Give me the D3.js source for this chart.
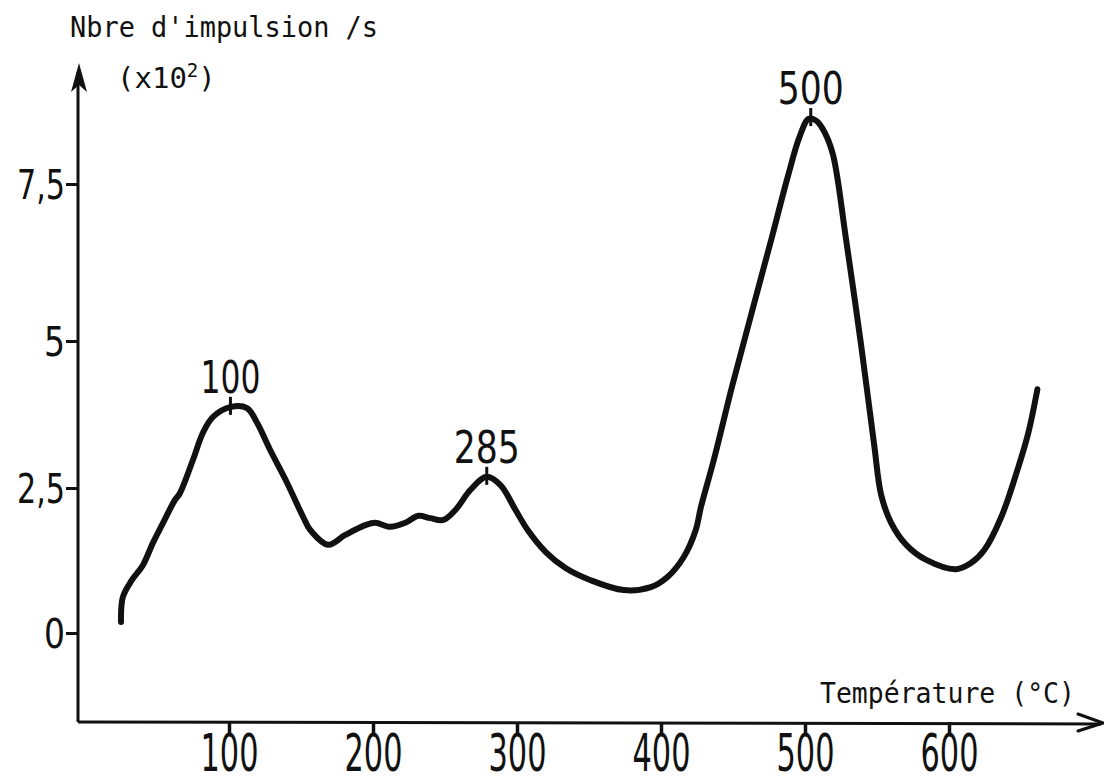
<!DOCTYPE html>
<html><head><meta charset="utf-8">
<script src="https://cdn.jsdelivr.net/npm/d3@7"></script>
<style>
html,body{margin:0;padding:0;background:#fff;}
svg{display:block;}
.mono{font-family:"DejaVu Sans Mono","Liberation Mono",monospace;fill:#111;}
.num{font-family:"Liberation Sans Narrow","DejaVu Sans Condensed","DejaVu Sans",sans-serif;fill:#111;}
</style></head>
<body>
<script>
// ---- data ----
const temps = [25, 26.3, 32.5, 40.2, 47.1, 53.4, 62.4, 65.9, 75, 81.9, 88.9, 101.4, 112.5, 119.5, 128.5, 140.3, 151.5, 156.3, 168.9, 180.7, 194.6, 201.6, 212, 222.4, 231.5, 239.8, 248.9, 257.2, 267.7, 278.8, 288.5, 299, 307.3, 319.8, 333.7, 351.1, 374.1, 392.9, 404.7, 415.8, 424.2, 427.7, 436.7, 449.3, 462.5, 475.7, 488.2, 496.2, 502.6, 508.2, 513.9, 519.5, 528.5, 538.9, 548, 552.9, 559.8, 570.3, 584.2, 605, 615.5, 624.5, 636.3, 648.2, 655.1, 661.4];
const counts = [0.19, 0.62, 0.91, 1.17, 1.55, 1.86, 2.29, 2.41, 2.98, 3.44, 3.71, 3.88, 3.86, 3.61, 3.15, 2.59, 2.0, 1.78, 1.52, 1.69, 1.86, 1.9, 1.83, 1.9, 2.02, 1.98, 1.95, 2.12, 2.47, 2.69, 2.55, 2.12, 1.78, 1.40, 1.12, 0.91, 0.74, 0.79, 0.97, 1.31, 1.78, 2.17, 2.98, 4.22, 5.41, 6.54, 7.63, 8.25, 8.54, 8.50, 8.31, 7.96, 6.62, 4.94, 3.24, 2.38, 1.90, 1.52, 1.26, 1.10, 1.21, 1.43, 2.0, 2.86, 3.44, 4.18];
const xTickValues = [100, 200, 300, 400, 500, 600];
const xTickLabels = ["100", "200", "300", "400", "500", "600"];
const yTickValues = [0, 2.5, 5, 7.5];
const yTickLabels = ["0", "2,5", "5", "7,5"];
const peakTemps = [101, 279, 504];
const peakValues = [3.88, 2.69, 8.55];
const peakLabels = ["100", "285", "500"];
const yTitle = "Nbre d'impulsion /s";
const yUnitMain = "(x10";
const yUnitSup = "2";
const yUnitEnd = ")";
const xTitle = "Température (°C)";

// ---- drawing ----
const W = 1104, H = 783;
const svg = d3.select("body").append("svg").attr("width", W).attr("height", H);

const x = d3.scaleLinear().domain([100, 500]).range([229, 805]);
const y = d3.scaleLinear().domain([0, 2.5, 5, 7.5]).range([633, 488, 341, 184]);

const originX = 78, axisY = 722;

// axes lines
svg.append("path")
  .attr("d", `M${originX},${axisY} L${originX},72`)
  .attr("stroke", "#111").attr("stroke-width", 3).attr("fill", "none");
svg.append("path")
  .attr("d", `M${originX},${axisY} L1101,${axisY + 2}`)
  .attr("stroke", "#111").attr("stroke-width", 3).attr("fill", "none");
// y arrow (filled)
svg.append("path")
  .attr("d", `M${originX + 1},63 L${originX + 9},92 L${originX + 1},85 L${originX - 7},92 Z`)
  .attr("fill", "#111");
// x arrow (open chevron)
svg.append("path")
  .attr("d", `M1078,714 L1103,${axisY + 1} L1078,731`)
  .attr("stroke", "#111").attr("stroke-width", 3).attr("fill", "none")
  .attr("stroke-linecap", "round").attr("stroke-linejoin", "round");

// x axis ticks
const gx = svg.append("g").attr("transform", `translate(0,${axisY})`)
  .call(d3.axisBottom(x).tickValues(xTickValues).tickSize(13).tickFormat((d, i) => xTickLabels[i]));
gx.select(".domain").remove();
gx.selectAll(".tick line").attr("stroke", "#111").attr("stroke-width", 3.5);
gx.selectAll(".tick text")
  .attr("class", "num").attr("font-size", 51).attr("y", 49).attr("dy", 0)
  .attr("textLength", 58).attr("lengthAdjust", "spacingAndGlyphs")
  .attr("fill", "#111");

// y axis ticks
const gy = svg.append("g").attr("transform", `translate(${originX},0)`)
  .call(d3.axisLeft(y).tickValues(yTickValues).tickSize(12).tickFormat((d, i) => yTickLabels[i]));
gy.select(".domain").remove();
gy.selectAll(".tick line").attr("stroke", "#111").attr("stroke-width", 3);
gy.selectAll(".tick text")
  .attr("class", "num").attr("font-size", 41).attr("x", -13).attr("dy", "0.36em")
  .attr("textLength", (d, i) => yTickLabels[i].length === 1 ? 21 : 48)
  .attr("lengthAdjust", "spacingAndGlyphs")
  .attr("fill", "#111");

// curve
const line = d3.line().x(d => x(d[0])).y(d => y(d[1])).curve(d3.curveCatmullRom.alpha(0.5));
svg.append("path")
  .datum(temps.map((t, i) => [t, counts[i]]))
  .attr("d", line)
  .attr("fill", "none").attr("stroke", "#111").attr("stroke-width", 6)
  .attr("stroke-linecap", "round").attr("stroke-linejoin", "round");

// peak markers
const pk = svg.append("g");
peakTemps.forEach((t, i) => {
  const px = x(t), py = y(peakValues[i]);
  pk.append("line").attr("x1", px).attr("x2", px).attr("y1", py - 10).attr("y2", py + 8)
    .attr("stroke", "#111").attr("stroke-width", 3);
  pk.append("text").attr("class", "num")
    .attr("x", px).attr("y", py - 14).attr("text-anchor", "middle")
    .attr("font-size", 44)
    .attr("textLength", peakLabels[i] === "100" ? 60 : 66).attr("lengthAdjust", "spacingAndGlyphs")
    .text(peakLabels[i]);
});

// titles
svg.append("text").attr("class", "mono").attr("x", 70).attr("y", 37)
  .attr("font-size", 29).attr("textLength", 308).attr("lengthAdjust", "spacingAndGlyphs")
  .text(yTitle);
const unit = svg.append("text").attr("class", "mono").attr("x", 117).attr("y", 88)
  .attr("font-size", 29);
unit.append("tspan").text(yUnitMain);
unit.append("tspan").attr("font-size", 19).attr("dy", -11).text(yUnitSup);
unit.append("tspan").attr("dy", 11).text(yUnitEnd);
svg.append("text").attr("class", "mono").attr("x", 820).attr("y", 703)
  .attr("font-size", 29).attr("textLength", 255).attr("lengthAdjust", "spacingAndGlyphs")
  .text(xTitle);
</script>
</body></html>
